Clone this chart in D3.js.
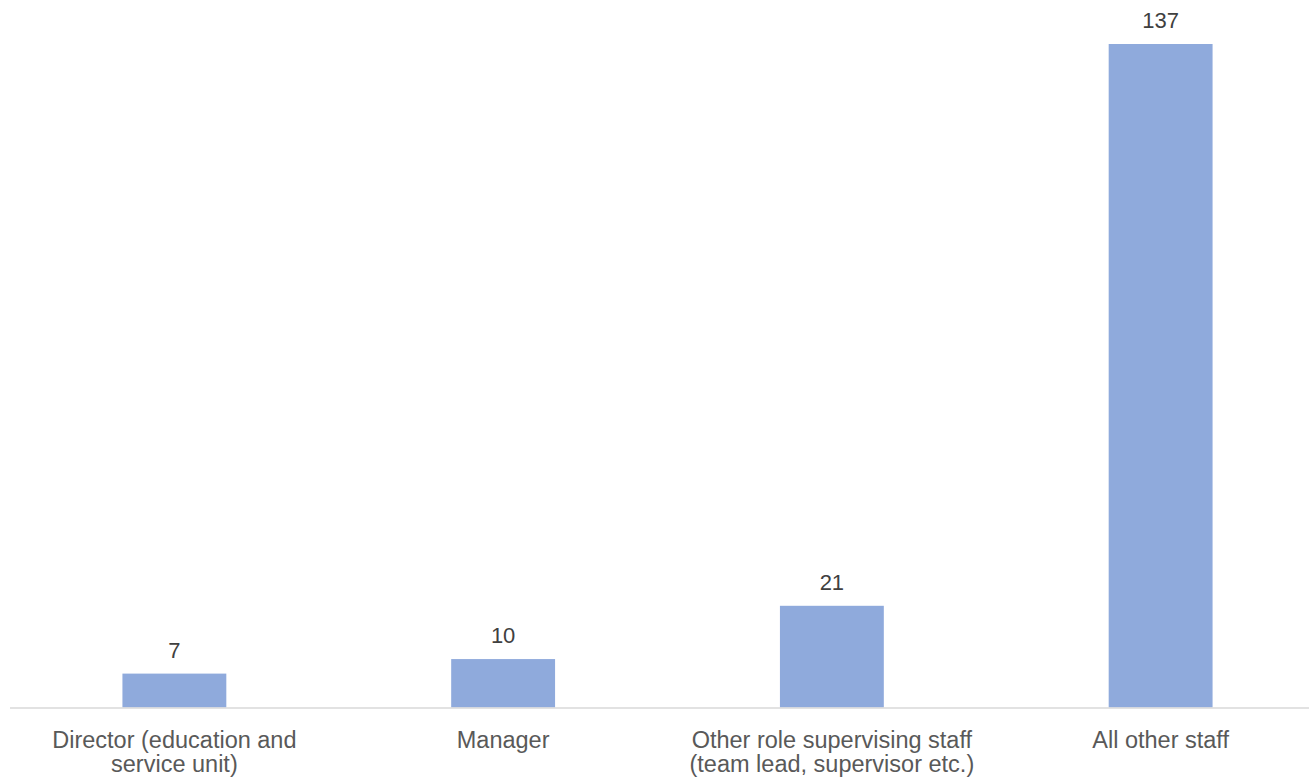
<!DOCTYPE html>
<html lang="en">
<head>
<meta charset="utf-8">
<title>Staff by role</title>
<style>
  body { margin:0; background:white; font-family: 'Liberation Sans', Arial, sans-serif; }
  svg { display:block; }
  .val { font-size:22px; fill:#404040; text-anchor:middle; }
  .cat { font-size:23.5px; fill:#595959; text-anchor:middle; }
</style>
</head>
<body>
<div id="canvas"></div>
<script src="https://cdnjs.cloudflare.com/ajax/libs/d3/7.8.5/d3.min.js"></script>
<script>
// data
var categories = [
  ["Director (education and", "service unit)"],
  ["Manager"],
  ["Other role supervising staff", "(team lead, supervisor etc.)"],
  ["All other staff"]
];
var values = [7, 10, 21, 137];

var width = 1309, height = 778;
var baseY = 707.5, topY = 44;

var svg = d3.select("#canvas").append("svg")
    .attr("width", width)
    .attr("height", height);

var x = d3.scaleBand()
    .domain(d3.range(values.length))
    .range([10, 1325])
    .paddingInner(0.684)
    .paddingOuter(0.342);

var y = d3.scaleLinear()
    .domain([0, 137])
    .range([baseY, topY]);

// bars
svg.selectAll("rect.bar")
    .data(values)
  .enter().append("rect")
    .attr("class", "bar")
    .attr("x", function(d, i) { return x(i); })
    .attr("width", x.bandwidth())
    .attr("y", function(d) { return y(d); })
    .attr("height", function(d) { return y(0) - y(d); })
    .attr("fill", "#8faadc");

// value labels
svg.selectAll("text.val")
    .data(values)
  .enter().append("text")
    .attr("class", "val")
    .attr("x", function(d, i) { return x(i) + x.bandwidth() / 2; })
    .attr("y", function(d) { return y(d) - 16; })
    .text(function(d) { return d; });

// baseline
svg.append("line")
    .attr("x1", 10)
    .attr("x2", width)
    .attr("y1", baseY + 0.5)
    .attr("y2", baseY + 0.5)
    .attr("stroke", "#d9d9d9")
    .attr("stroke-width", 1.3);

// category labels
var cats = svg.selectAll("text.cat")
    .data(categories)
  .enter().append("text")
    .attr("class", "cat")
    .attr("x", function(d, i) { return x(i) + x.bandwidth() / 2; })
    .attr("y", baseY + 40);

cats.selectAll("tspan")
    .data(function(d, i) { return d.map(function(s) { return {s: s, i: i}; }); })
  .enter().append("tspan")
    .attr("x", function(d) { return x(d.i) + x.bandwidth() / 2; })
    .attr("dy", function(d, j) { return j === 0 ? 0 : 24; })
    .text(function(d) { return d.s; });
</script>
</body>
</html>
